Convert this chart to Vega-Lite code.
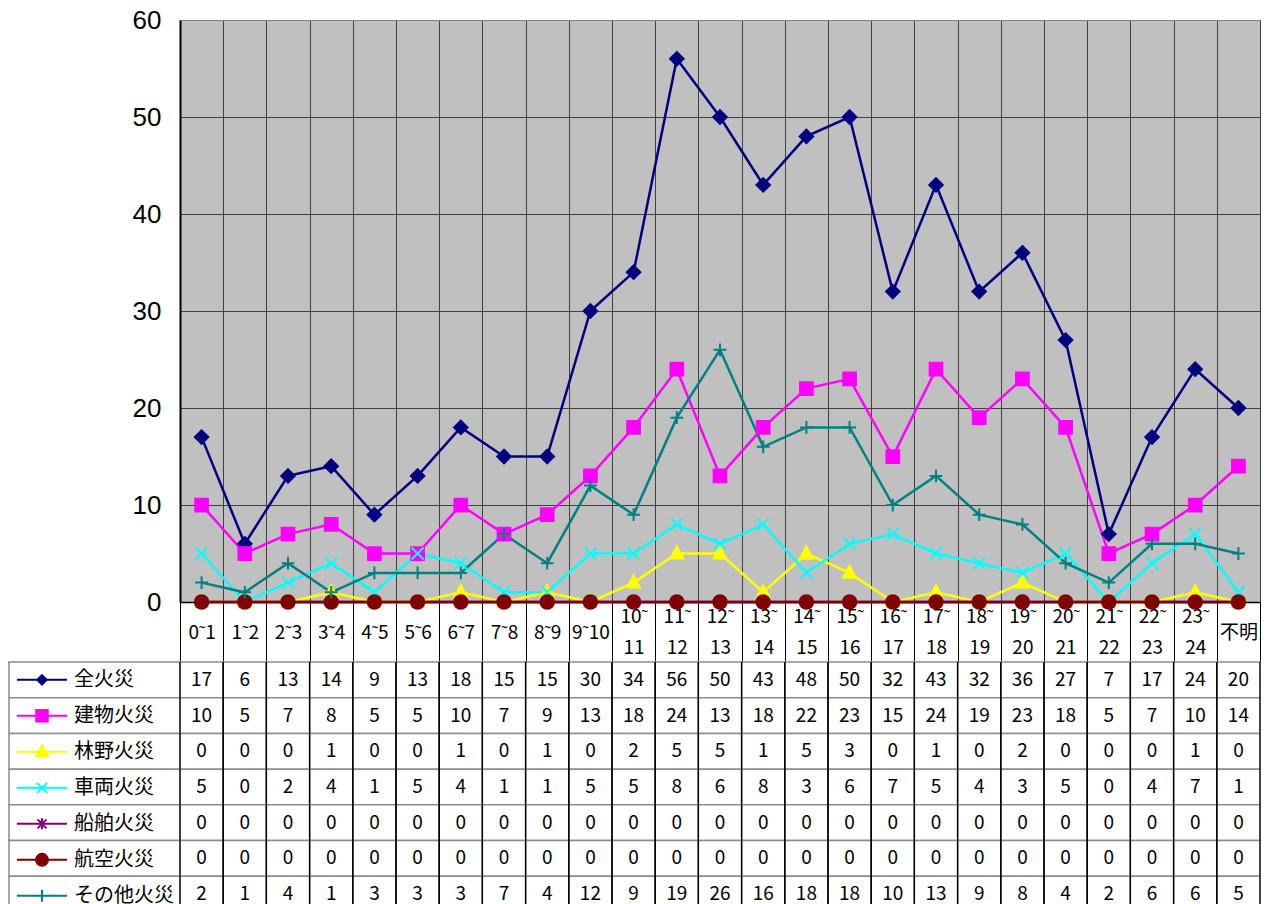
{
  "$schema": "https://vega.github.io/schema/vega-lite/v6.json",
  "background": "white",
  "padding": {"left": 8, "top": 6, "right": 0, "bottom": 0},
  "datasets": {
    "fires": [
      {"h": "0˜1", "全火災": 17, "建物火災": 10, "林野火災": 0, "車両火災": 5, "船舶火災": 0, "航空火災": 0, "その他火災": 2},
      {"h": "1˜2", "全火災": 6, "建物火災": 5, "林野火災": 0, "車両火災": 0, "船舶火災": 0, "航空火災": 0, "その他火災": 1},
      {"h": "2˜3", "全火災": 13, "建物火災": 7, "林野火災": 0, "車両火災": 2, "船舶火災": 0, "航空火災": 0, "その他火災": 4},
      {"h": "3˜4", "全火災": 14, "建物火災": 8, "林野火災": 1, "車両火災": 4, "船舶火災": 0, "航空火災": 0, "その他火災": 1},
      {"h": "4˜5", "全火災": 9, "建物火災": 5, "林野火災": 0, "車両火災": 1, "船舶火災": 0, "航空火災": 0, "その他火災": 3},
      {"h": "5˜6", "全火災": 13, "建物火災": 5, "林野火災": 0, "車両火災": 5, "船舶火災": 0, "航空火災": 0, "その他火災": 3},
      {"h": "6˜7", "全火災": 18, "建物火災": 10, "林野火災": 1, "車両火災": 4, "船舶火災": 0, "航空火災": 0, "その他火災": 3},
      {"h": "7˜8", "全火災": 15, "建物火災": 7, "林野火災": 0, "車両火災": 1, "船舶火災": 0, "航空火災": 0, "その他火災": 7},
      {"h": "8˜9", "全火災": 15, "建物火災": 9, "林野火災": 1, "車両火災": 1, "船舶火災": 0, "航空火災": 0, "その他火災": 4},
      {"h": "9˜10", "全火災": 30, "建物火災": 13, "林野火災": 0, "車両火災": 5, "船舶火災": 0, "航空火災": 0, "その他火災": 12},
      {"h": "10˜11", "全火災": 34, "建物火災": 18, "林野火災": 2, "車両火災": 5, "船舶火災": 0, "航空火災": 0, "その他火災": 9},
      {"h": "11˜12", "全火災": 56, "建物火災": 24, "林野火災": 5, "車両火災": 8, "船舶火災": 0, "航空火災": 0, "その他火災": 19},
      {"h": "12˜13", "全火災": 50, "建物火災": 13, "林野火災": 5, "車両火災": 6, "船舶火災": 0, "航空火災": 0, "その他火災": 26},
      {"h": "13˜14", "全火災": 43, "建物火災": 18, "林野火災": 1, "車両火災": 8, "船舶火災": 0, "航空火災": 0, "その他火災": 16},
      {"h": "14˜15", "全火災": 48, "建物火災": 22, "林野火災": 5, "車両火災": 3, "船舶火災": 0, "航空火災": 0, "その他火災": 18},
      {"h": "15˜16", "全火災": 50, "建物火災": 23, "林野火災": 3, "車両火災": 6, "船舶火災": 0, "航空火災": 0, "その他火災": 18},
      {"h": "16˜17", "全火災": 32, "建物火災": 15, "林野火災": 0, "車両火災": 7, "船舶火災": 0, "航空火災": 0, "その他火災": 10},
      {"h": "17˜18", "全火災": 43, "建物火災": 24, "林野火災": 1, "車両火災": 5, "船舶火災": 0, "航空火災": 0, "その他火災": 13},
      {"h": "18˜19", "全火災": 32, "建物火災": 19, "林野火災": 0, "車両火災": 4, "船舶火災": 0, "航空火災": 0, "その他火災": 9},
      {"h": "19˜20", "全火災": 36, "建物火災": 23, "林野火災": 2, "車両火災": 3, "船舶火災": 0, "航空火災": 0, "その他火災": 8},
      {"h": "20˜21", "全火災": 27, "建物火災": 18, "林野火災": 0, "車両火災": 5, "船舶火災": 0, "航空火災": 0, "その他火災": 4},
      {"h": "21˜22", "全火災": 7, "建物火災": 5, "林野火災": 0, "車両火災": 0, "船舶火災": 0, "航空火災": 0, "その他火災": 2},
      {"h": "22˜23", "全火災": 17, "建物火災": 7, "林野火災": 0, "車両火災": 4, "船舶火災": 0, "航空火災": 0, "その他火災": 6},
      {"h": "23˜24", "全火災": 24, "建物火災": 10, "林野火災": 1, "車両火災": 7, "船舶火災": 0, "航空火災": 0, "その他火災": 6},
      {"h": "不明", "全火災": 20, "建物火災": 14, "林野火災": 0, "車両火災": 1, "船舶火災": 0, "航空火災": 0, "その他火災": 5}
    ],
    "serieslist": [
      {"series": "全火災"}, {"series": "建物火災"}, {"series": "林野火災"}, {"series": "車両火災"},
      {"series": "船舶火災"}, {"series": "航空火災"}, {"series": "その他火災"}
    ]
  },
  "columns": 2,
  "spacing": {"row": 60, "column": 0},
  "bounds": "flush",
  "concat": [
    {
      "width": 171,
      "height": 582,
      "data": {"values": []},
      "mark": "text",
      "encoding": {}
    },
    {
      "width": 1080,
      "height": 582,
      "view": {"fill": "#C0C0C0", "stroke": "#808080", "strokeWidth": 1},
      "data": {"name": "fires"},
      "transform": [{"fold": ["全火災", "建物火災", "林野火災", "車両火災", "船舶火災", "航空火災", "その他火災"], "as": ["series", "value"]}],
      "encoding": {
        "x": {
          "field": "h", "type": "nominal", "sort": null, "bandPosition": 0.5,
          "scale": {"type": "band", "paddingInner": 0, "paddingOuter": 0},
          "axis": {
            "title": null, "orient": "bottom", "tickBand": "extent",
            "grid": true, "gridColor": "#404040", "gridWidth": 1,
            "ticks": true, "tickSize": 60, "tickColor": "#000", "tickWidth": 1,
            "domain": true, "domainColor": "#000", "domainWidth": 1.5,
            "labelAngle": 0, "labelFont": "Noto Sans CJK JP", "labelFontSize": 19, "labelColor": "#000",
            "labelBaseline": {"condition": {"test": "length(datum.label) >= 5", "value": "line-bottom"}, "value": "middle"},
            "labelAlign": "center", "labelPadding": -30, "labelLineHeight": 31,
            "labelOverlap": false, "labelFlush": false, "labelBound": false,
            "labelExpr": "indexof(datum.label,'˜') >= 2 ? [slice(datum.label, 0, indexof(datum.label,'˜') + 1), slice(datum.label, indexof(datum.label,'˜') + 1)] : datum.label"
          }
        },
        "y": {
          "field": "value", "type": "quantitative",
          "scale": {"domain": [0, 60], "nice": false, "zero": true},
          "axis": {
            "title": null, "values": [0, 10, 20, 30, 40, 50, 60],
            "grid": true, "gridColor": {"condition": {"test": "datum.value == 60", "value": "#808080"}, "value": "#404040"}, "gridWidth": 1,
            "ticks": false, "domain": true, "domainColor": "#000", "domainWidth": 2,
            "labelFont": "Liberation Sans", "labelFontSize": 26, "labelColor": "#000", "labelPadding": 19, "labelFlush": false
          }
        }
      },
      "layer": [
        {
          "mark": {"type": "line", "strokeWidth": 2.5},
          "encoding": {
            "color": {
              "field": "series", "type": "nominal", "legend": null,
              "scale": {
                "domain": ["全火災", "建物火災", "林野火災", "車両火災", "船舶火災", "航空火災", "その他火災"],
                "range": ["#000080", "#FF00FF", "#FFFF00", "#00FFFF", "#800080", "#800000", "#008080"]
              }
            }
          }
        },
        {
          "mark": {"type": "point", "filled": true, "size": 225, "strokeWidth": 2, "opacity": 1},
          "encoding": {
            "fill": {
              "field": "series", "type": "nominal", "legend": null,
              "scale": {
                "domain": ["全火災", "建物火災", "林野火災", "車両火災", "船舶火災", "航空火災", "その他火災"],
                "range": ["#000080", "#FF00FF", "#FFFF00", "#00FFFF", "#800080", "#800000", "#008080"]
              }
            },
            "stroke": {
              "field": "series", "type": "nominal", "legend": null,
              "scale": {
                "domain": ["全火災", "建物火災", "林野火災", "車両火災", "船舶火災", "航空火災", "その他火災"],
                "range": ["#000080", "#FF00FF", "#FFFF00", "#00FFFF", "#800080", "#800000", "#008080"]
              }
            },
            "shape": {
              "field": "series", "type": "nominal", "legend": null,
              "scale": {
                "domain": ["全火災", "建物火災", "林野火災", "車両火災", "船舶火災", "航空火災", "その他火災"],
                "range": [
                  "M0,-0.9L0.9,0L0,0.9L-0.9,0Z",
                  "M-0.85,-0.85L0.85,-0.85L0.85,0.85L-0.85,0.85Z",
                  "M0,-0.95L0.85,0.65L-0.85,0.65Z",
                  "M-0.8,-0.8L0.8,0.8M-0.8,0.8L0.8,-0.8",
                  "M-0.7,-0.7L0.7,0.7M-0.7,0.7L0.7,-0.7M0,-0.9L0,0.9",
                  "M-0.9,0A0.9,0.9,0,1,1,0.9,0A0.9,0.9,0,1,1,-0.9,0Z",
                  "M-0.85,0L0.85,0M0,-0.85L0,0.85"
                ]
              }
            }
          }
        }
      ]
    },
    {
      "width": 171,
      "height": 250,
      "data": {"name": "serieslist"},
      "layer": [
        {
          "mark": {"type": "rect", "fill": "white", "stroke": "#8c8c8c", "strokeWidth": 1.5},
          "encoding": {
            "y": {
              "field": "series", "type": "nominal", "axis": null,
              "scale": {"type": "band", "paddingInner": 0, "paddingOuter": 0,
                "domain": ["全火災", "建物火災", "林野火災", "車両火災", "船舶火災", "航空火災", "その他火災"]}
            }
          }
        },
        {
          "transform": [{"filter": "false"}],
          "mark": {"type": "point", "filled": true, "strokeWidth": 2},
          "encoding": {
            "fill": {
              "field": "series", "type": "nominal",
              "legend": {"orient": "none", "legendX": 7, "legendY": 0, "title": null},
              "scale": {
                "domain": ["全火災", "建物火災", "林野火災", "車両火災", "船舶火災", "航空火災", "その他火災"],
                "range": ["#000080", "#FF00FF", "#FFFF00", "#00FFFF", "#800080", "#800000", "#008080"]
              }
            },
            "stroke": {
              "field": "series", "type": "nominal",
              "legend": {"orient": "none", "legendX": 7, "legendY": 0, "title": null},
              "scale": {
                "domain": ["全火災", "建物火災", "林野火災", "車両火災", "船舶火災", "航空火災", "その他火災"],
                "range": ["#000080", "#FF00FF", "#FFFF00", "#00FFFF", "#800080", "#800000", "#008080"]
              }
            },
            "shape": {
              "field": "series", "type": "nominal",
              "legend": {"orient": "none", "legendX": 7, "legendY": 0, "title": null},
              "scale": {
                "domain": ["全火災", "建物火災", "林野火災", "車両火災", "船舶火災", "航空火災", "その他火災"],
                "range": [
                  "M-1,0L1,0M0,-0.19L0.19,0L0,0.19L-0.19,0Z",
                  "M-1,0L1,0M-0.23,-0.23L0.23,-0.23L0.23,0.23L-0.23,0.23Z",
                  "M-1,0L1,0M0,-0.26L0.24,0.18L-0.24,0.18Z",
                  "M-1,0L1,0M-0.2,-0.2L0.2,0.2M-0.2,0.2L0.2,-0.2",
                  "M-1,0L1,0M-0.18,-0.18L0.18,0.18M-0.18,0.18L0.18,-0.18M0,-0.22L0,0.22",
                  "M-1,0L1,0M-0.24,0A0.24,0.24,0,1,1,0.24,0A0.24,0.24,0,1,1,-0.24,0Z",
                  "M-1,0L1,0M0,-0.24L0,0.24"
                ]
              }
            }
          }
        }
      ]
    },
    {
      "width": 1080,
      "height": 250,
      "data": {"name": "fires"},
      "transform": [{"fold": ["全火災", "建物火災", "林野火災", "車両火災", "船舶火災", "航空火災", "その他火災"], "as": ["series", "value"]}],
      "layer": [
        {
          "mark": {"type": "rect", "fill": "white", "stroke": "#8c8c8c", "strokeWidth": 1.5},
          "encoding": {
            "x": {"field": "h", "type": "nominal", "sort": null, "axis": null,
              "scale": {"type": "band", "paddingInner": 0, "paddingOuter": 0}},
            "y": {"field": "series", "type": "nominal", "axis": null,
              "scale": {"type": "band", "paddingInner": 0, "paddingOuter": 0,
                "domain": ["全火災", "建物火災", "林野火災", "車両火災", "船舶火災", "航空火災", "その他火災"]}}
          }
        },
        {
          "transform": [{"filter": "datum.series == '全火災'"}],
          "mark": {"type": "rule", "color": "#000", "strokeWidth": 1.2},
          "encoding": {
            "x": {"field": "h", "type": "nominal", "sort": null, "bandPosition": 0}
          }
        },
        {
          "transform": [{"filter": "datum.series == '全火災'"}],
          "mark": {"type": "rule", "color": "#000", "strokeWidth": 1.2},
          "encoding": {
            "x": {"field": "h", "type": "nominal", "sort": null, "bandPosition": 1}
          }
        },
        {
          "mark": {"type": "text", "font": "Noto Sans CJK JP", "fontSize": 19, "color": "#000", "baseline": "middle", "align": "center"},
          "encoding": {
            "x": {"field": "h", "type": "nominal", "sort": null},
            "y": {"field": "series", "type": "nominal"},
            "text": {"field": "value", "type": "quantitative"}
          }
        }
      ]
    }
  ],
  "resolve": {
    "scale": {"x": "independent", "y": "independent", "color": "independent", "fill": "independent", "stroke": "independent", "shape": "independent"},
    "legend": {"color": "independent", "fill": "independent", "stroke": "independent", "shape": "independent"}
  },
  "config": {
    "view": {"stroke": null},
    "font": "Noto Sans CJK JP",
    "legend": {
      "symbolSize": 2500, "symbolStrokeWidth": 2, "symbolOpacity": 1,
      "labelFont": "Noto Sans CJK JP", "labelFontSize": 20, "labelColor": "#000",
      "labelOffset": 6, "clipHeight": 35.7, "rowPadding": 0, "padding": 0, "labelLimit": 200
    }
  }
}
